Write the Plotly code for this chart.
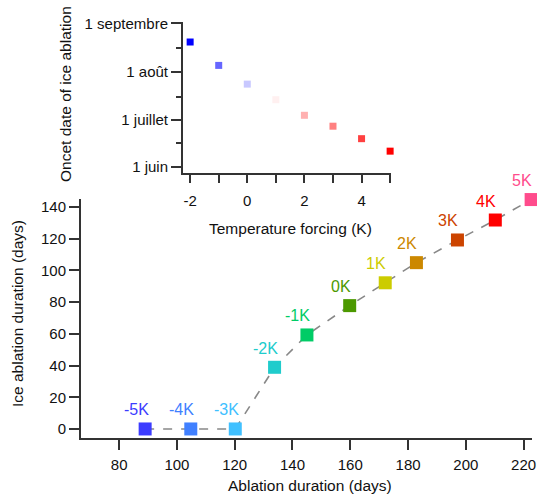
import plotly.graph_objects as go

# ---- Main panel data ----
labels = ["-5K", "-4K", "-3K", "-2K", "-1K", "0K", "1K", "2K", "3K", "4K", "5K"]
ablation_days = [89.0, 104.8, 120.2, 133.8, 145.0, 159.8, 172.1, 182.9, 197.1, 210.2, 222.6]
ice_ablation_days = [0, 0, 0, 38.9, 59.3, 77.8, 92.2, 104.9, 119.2, 131.8, 144.7]
main_colors = ["rgb(60,60,255)", "rgb(64,128,255)", "rgb(64,192,255)", "rgb(32,204,204)",
               "rgb(0,204,102)", "rgb(76,153,0)", "rgb(204,204,0)", "rgb(204,136,0)",
               "rgb(204,68,0)", "rgb(255,0,0)", "rgb(255,76,140)"]
main_xticks = [80, 100, 120, 140, 160, 180, 200, 220]
main_yticks = [0, 20, 40, 60, 80, 100, 120, 140]

# ---- Inset data ----
forcing_K = [-2, -1, 0, 1, 2, 3, 4, 5]
onset_dates = ["2001-08-20", "2001-08-05", "2001-07-24", "2001-07-14",
               "2001-07-04", "2001-06-27", "2001-06-19", "2001-06-11"]
inset_colors = ["rgb(0,0,255)", "rgb(102,102,255)", "rgb(200,200,255)", "rgb(255,240,240)",
                "rgb(255,176,176)", "rgb(255,128,128)", "rgb(255,64,64)", "rgb(255,0,0)"]
inset_xticks = [-2, 0, 2, 4]
inset_xticktext = ["-2", "0", "2", "4"]
inset_xminor = [-1, 1, 3, 5]
inset_ytickvals = ["2001-06-01", "2001-07-01", "2001-08-01", "2001-09-01"]
inset_yticktext = ["1 juin", "1 juillet", "1 août", "1 septembre"]
inset_yminor = ["2001-06-16", "2001-07-16", "2001-08-16"]

FONT = "Liberation Sans, Arial, sans-serif"
AX = "#333333"

fig = go.Figure()

# dashed connecting line
fig.add_trace(go.Scatter(x=ablation_days, y=ice_ablation_days, mode="lines",
                         line=dict(color="#888888", width=1.6, dash="dash"),
                         xaxis="x", yaxis="y", hoverinfo="skip", cliponaxis=False))
# markers
fig.add_trace(go.Scatter(x=ablation_days, y=ice_ablation_days, mode="markers",
                         marker=dict(symbol="square", size=13, color=main_colors,
                                     line=dict(width=0)),
                         xaxis="x", yaxis="y", cliponaxis=False))
# inset markers
fig.add_trace(go.Scatter(x=forcing_K, y=onset_dates, mode="markers",
                         marker=dict(symbol="square", size=7, color=inset_colors,
                                     line=dict(width=0)),
                         xaxis="x2", yaxis="y2", cliponaxis=False))

annotations = []
for lab, xv, yv, c in zip(labels, ablation_days, ice_ablation_days, main_colors):
    annotations.append(dict(x=xv, y=yv, xref="x", yref="y", text=lab, showarrow=False,
                            xshift=-9, yshift=19, font=dict(family=FONT, size=16, color=c)))

title_font = dict(family=FONT, size=15.5, color="#111111")
annotations += [
    dict(text="Ablation duration (days)", x=310 / 537, y=1 - 485 / 495, xref="paper",
         yref="paper", showarrow=False, font=title_font, xanchor="center", yanchor="middle"),
    dict(text="Ice ablation duration (days)", x=17 / 537, y=1 - 314 / 495, xref="paper",
         yref="paper", showarrow=False, font=title_font, textangle=-90,
         xanchor="center", yanchor="middle"),
    dict(text="Temperature forcing (K)", x=290 / 537, y=1 - 228 / 495, xref="paper",
         yref="paper", showarrow=False, font=title_font, xanchor="center", yanchor="middle"),
    dict(text="Oncet date of ice ablation", x=65 / 537, y=1 - 94 / 495, xref="paper",
         yref="paper", showarrow=False, font=title_font, textangle=-90,
         xanchor="center", yanchor="middle"),
]

common = dict(showline=True, linecolor=AX, linewidth=2, ticks="outside", tickcolor=AX,
              tickwidth=1.5, showgrid=False, zeroline=False,
              tickfont=dict(family=FONT, size=15, color="#111111"), automargin=False)

fig.update_layout(
    width=537, height=495,
    margin=dict(l=0, r=0, t=0, b=0),
    paper_bgcolor="white", plot_bgcolor="white",
    showlegend=False,
    annotations=annotations,
    xaxis=dict(domain=[81 / 537, 532 / 537], range=[66.8, 222.9], tickmode="array",
               tickvals=main_xticks, ticklen=10, ticklabelstandoff=2, anchor="y", **common),
    yaxis=dict(domain=[1 - 438 / 495, 1 - 199 / 495], range=[-5.7, 145.05], tickmode="array",
               tickvals=main_yticks, ticklen=10, anchor="x", **common),
    xaxis2=dict(domain=[183 / 537, 390.7 / 537], range=[-2.25, 5.02], tickmode="array",
                tickvals=inset_xticks, ticktext=inset_xticktext, ticklen=8,
                ticklabelstandoff=5, anchor="y2",
                minor=dict(tickmode="array", tickvals=inset_xminor, ticklen=8,
                           ticks="outside", tickcolor=AX, tickwidth=1.5), **common),
    yaxis2=dict(domain=[1 - 173.3 / 495, 1 - 22 / 495], type="date",
                range=["2001-05-27 19:00", "2001-09-01 20:00"], tickmode="array",
                tickvals=inset_ytickvals, ticktext=inset_yticktext, ticklen=10, anchor="x2",
                minor=dict(tickmode="array", tickvals=inset_yminor, ticklen=5,
                           ticks="outside", tickcolor=AX, tickwidth=1.5), **common),
)

fig.write_html("out.html", config={"displayModeBar": False},
               post_script="document.body.style.margin='0';document.body.style.padding='0';")
